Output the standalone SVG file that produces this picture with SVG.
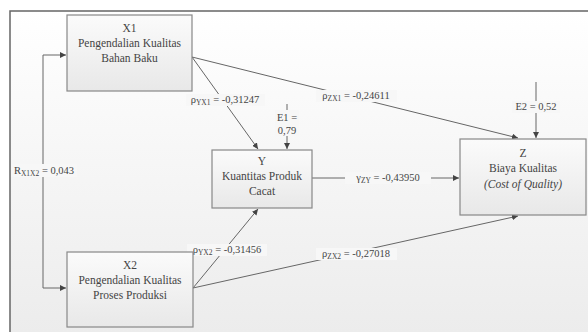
<svg xmlns="http://www.w3.org/2000/svg" width="588" height="332" viewBox="0 0 588 332" font-family="'Liberation Serif', 'Times New Roman', serif">
<defs>
<linearGradient id="bg" x1="0" y1="0" x2="0" y2="1"><stop offset="0" stop-color="#ffffff"/><stop offset="1" stop-color="#ececec"/></linearGradient>
<linearGradient id="box" x1="0" y1="0" x2="0" y2="1"><stop offset="0" stop-color="#fbfbfb"/><stop offset="1" stop-color="#e8e8e8"/></linearGradient>
<marker id="ah" viewBox="0 0 10 10" refX="10" refY="5" markerWidth="6" markerHeight="6" orient="auto-start-reverse" markerUnits="userSpaceOnUse"><path d="M0,0 L10,5 L0,10 z" fill="#444"/></marker>
<style>
.frame{fill:url(#bg);stroke:#666;stroke-width:1.5}
.node rect{fill:url(#box);stroke:#888;stroke-width:1.2}
text{font-family:'Liberation Serif','Times New Roman',serif;font-size:11.5px;fill:#444;text-anchor:middle}
.lbl{font-size:10.5px}
.sub{font-size:7.5px}
.c line,.c path{stroke:#666;stroke-width:1;fill:none}
.bgt{fill:#f7f7f7}
</style>
</defs>
<rect class="frame" x="10" y="11" width="580" height="322"/>
<g class="c">
<path d="M66,55 L43,55 L43,288 L66,288" marker-start="url(#ah)" marker-end="url(#ah)"/>
<line x1="192" y1="57" x2="258" y2="149" marker-end="url(#ah)"/>
<line x1="192" y1="57" x2="518" y2="138" marker-end="url(#ah)"/>
<line x1="287" y1="104" x2="287" y2="149" marker-end="url(#ah)"/>
<line x1="536" y1="82" x2="536" y2="138" marker-end="url(#ah)"/>
<line x1="312" y1="178" x2="459" y2="178" marker-end="url(#ah)"/>
<line x1="193" y1="288" x2="258" y2="209" marker-end="url(#ah)"/>
<line x1="193" y1="288" x2="518" y2="216" marker-end="url(#ah)"/>
<rect class="bgt" x="11" y="164" width="66" height="13"/>
<text class="lbl" x="44" y="173.5">R<tspan class="sub" dy="2">X1X2</tspan><tspan dy="-2"> = 0,043</tspan></text>
<rect class="bgt" x="186" y="94" width="79" height="12"/>
<text class="lbl" x="225" y="103">ρ<tspan class="sub" dy="2">YX1</tspan><tspan dy="-2"> = -0,31247</tspan></text>
<rect class="bgt" x="316" y="90" width="81" height="12"/>
<text class="lbl" x="356" y="99">ρ<tspan class="sub" dy="2">ZX1</tspan><tspan dy="-2"> = -0,24611</tspan></text>
<rect class="bgt" x="275" y="110" width="24" height="26"/>
<text class="lbl" x="287" y="121">E1 =</text>
<text class="lbl" x="287" y="134">0,79</text>
<rect class="bgt" x="512" y="101" width="48" height="12"/>
<text class="lbl" x="536" y="110">E2 = 0,52</text>
<rect class="bgt" x="345" y="172" width="86" height="12"/>
<text class="lbl" x="388" y="181">γ<tspan class="sub" dy="2">ZY</tspan><tspan dy="-2"> = -0,43950</tspan></text>
<rect class="bgt" x="187" y="244" width="80" height="12"/>
<text class="lbl" x="227" y="253">ρ<tspan class="sub" dy="2">YX2</tspan><tspan dy="-2"> = -0,31456</tspan></text>
<rect class="bgt" x="316" y="248" width="81" height="12"/>
<text class="lbl" x="356" y="257">ρ<tspan class="sub" dy="2">ZX2</tspan><tspan dy="-2"> = -0,27018</tspan></text>
</g>
<g id="X1" class="node">
<rect x="67" y="15" width="125" height="76"/>
<text x="129.5" y="32">X1</text>
<text x="129.5" y="47">Pengendalian Kualitas</text>
<text x="129.5" y="62">Bahan Baku</text>
</g>
<g id="X2" class="node">
<rect x="67" y="252" width="126" height="75"/>
<text x="130" y="269">X2</text>
<text x="130" y="284">Pengendalian Kualitas</text>
<text x="130" y="299">Proses Produksi</text>
</g>
<g id="Y" class="node">
<rect x="212" y="150" width="100" height="58"/>
<text x="262" y="165">Y</text>
<text x="262" y="180">Kuantitas Produk</text>
<text x="262" y="195">Cacat</text>
</g>
<g id="Z" class="node">
<rect x="460" y="139" width="126" height="76"/>
<text x="523" y="157">Z</text>
<text x="523" y="172">Biaya Kualitas</text>
<text x="523" y="188" font-style="italic">(Cost of Quality)</text>
</g>
</svg>
